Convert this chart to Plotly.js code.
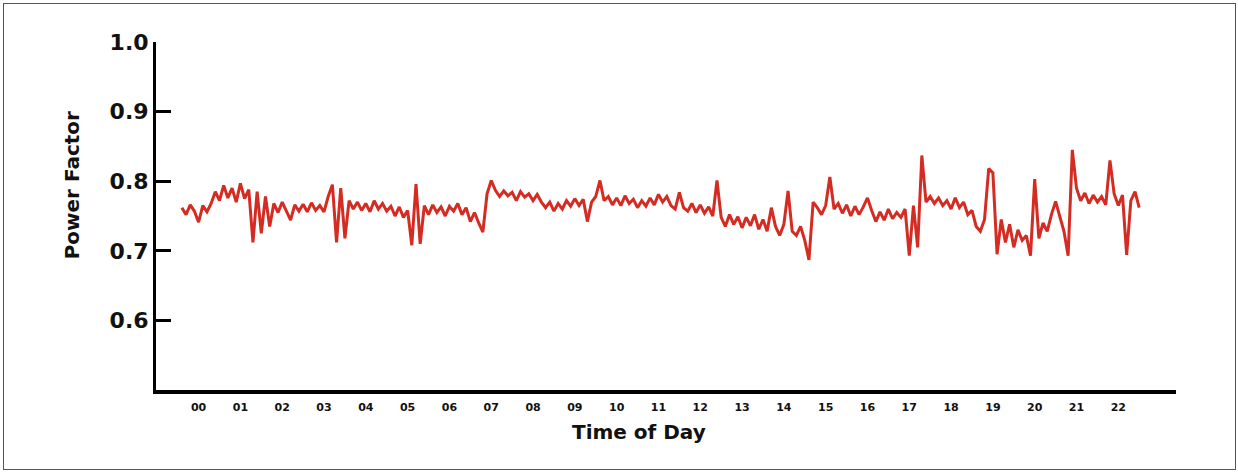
<!DOCTYPE html>
<html>
<head>
<meta charset="utf-8">
<script src="https://cdn.plot.ly/plotly-3.0.1.min.js"></script>
<style>
  html, body { margin: 0; padding: 0; background: #ffffff; }
  #wrap { position: relative; width: 1238px; height: 473px; }
  #chart { width: 1238px; height: 473px; }
  #frame { position: absolute; left: 3px; top: 3px; width: 1231px; height: 465px;
           border: 1px solid #555555; pointer-events: none; }
</style>
</head>
<body>
<div id="wrap">
  <div id="chart"></div>
  <div id="frame"></div>
</div>
<script>
// Sampling: readings every 0.1 hour starting at -0.4 h (line starts just before "00")
const START_HOUR = -0.4;
const STEP_HOURS = 0.1;

// Power factor readings
const powerFactor = [
  0.762, 0.752, 0.766, 0.757,                                          // -0.4 .. -0.1
  0.741, 0.765, 0.756, 0.768, 0.785, 0.772, 0.794, 0.776, 0.790, 0.770, // 00
  0.797, 0.775, 0.788, 0.712, 0.785, 0.725, 0.778, 0.735, 0.768, 0.755, // 01
  0.770, 0.758, 0.744, 0.766, 0.757, 0.767, 0.756, 0.769, 0.758, 0.765, // 02
  0.756, 0.778, 0.795, 0.712, 0.790, 0.718, 0.772, 0.760, 0.770, 0.758, // 03
  0.768, 0.756, 0.772, 0.760, 0.768, 0.757, 0.764, 0.750, 0.763, 0.748, // 04
  0.758, 0.708, 0.796, 0.710, 0.765, 0.752, 0.766, 0.755, 0.763, 0.750, // 05
  0.764, 0.757, 0.768, 0.752, 0.762, 0.742, 0.755, 0.740, 0.727, 0.782, // 06
  0.801, 0.787, 0.778, 0.786, 0.779, 0.784, 0.772, 0.785, 0.777, 0.782, // 07
  0.772, 0.781, 0.770, 0.762, 0.770, 0.757, 0.768, 0.760, 0.772, 0.764, // 08
  0.775, 0.765, 0.774, 0.742, 0.770, 0.778, 0.801, 0.772, 0.778, 0.766, // 09
  0.776, 0.765, 0.779, 0.768, 0.774, 0.762, 0.772, 0.764, 0.776, 0.766, // 10
  0.781, 0.770, 0.778, 0.765, 0.760, 0.784, 0.762, 0.757, 0.768, 0.755, // 11
  0.766, 0.754, 0.763, 0.750, 0.801, 0.748, 0.735, 0.752, 0.738, 0.749, // 12
  0.733, 0.748, 0.736, 0.752, 0.731, 0.745, 0.728, 0.762, 0.735, 0.722, // 13
  0.738, 0.786, 0.728, 0.722, 0.735, 0.715, 0.687, 0.770, 0.762, 0.752, // 14
  0.765, 0.806, 0.760, 0.768, 0.754, 0.766, 0.750, 0.764, 0.752, 0.763, // 15
  0.776, 0.758, 0.742, 0.756, 0.744, 0.760, 0.746, 0.755, 0.748, 0.760, // 16
  0.693, 0.765, 0.705, 0.837, 0.770, 0.778, 0.768, 0.776, 0.765, 0.772, // 17
  0.760, 0.776, 0.762, 0.770, 0.752, 0.758, 0.735, 0.728, 0.745, 0.818, // 18
  0.812, 0.695, 0.745, 0.712, 0.738, 0.705, 0.730, 0.715, 0.722, 0.693, // 19
  0.803, 0.718, 0.740, 0.728, 0.752, 0.771, 0.748, 0.728, 0.693, 0.845, // 20
  0.790, 0.772, 0.783, 0.768, 0.780, 0.770, 0.778, 0.766, 0.830, 0.782, // 21
  0.765, 0.780, 0.694, 0.772, 0.785, 0.762                              // 22
];

// Axis ticks
const hourTicks = [0,1,2,3,4,5,6,7,8,9,10,11,12,13,14,15,16,17,18,19,20,21,22];
const hourLabels = ['00','01','02','03','04','05','06','07','08','09','10','11',
                    '12','13','14','15','16','17','18','19','20','21','22'];
const pfTicks = [0.6, 0.7, 0.8, 0.9, 1.0];
const pfLabels = ['0.6', '0.7', '0.8', '0.9', '1.0'];

const FONT = 'DejaVu Sans, Liberation Sans, Arial, sans-serif';

const trace = {
  type: 'scatter',
  mode: 'lines',
  x0: START_HOUR,
  dx: STEP_HOURS,
  y: powerFactor,
  line: { color: '#d42b22', width: 3 },
  hoverinfo: 'skip'
};

const layout = {
  width: 1238,
  height: 473,
  margin: { l: 156, r: 62, t: 42, b: 83 },
  paper_bgcolor: '#ffffff',
  plot_bgcolor: '#ffffff',
  showlegend: false,
  xaxis: {
    range: [-1.019, 23.38],
    tickmode: 'array',
    tickvals: hourTicks,
    ticktext: hourLabels,
    ticks: '',
    ticklabelstandoff: 4,
    showline: true,
    linecolor: '#000000',
    linewidth: 4,
    showgrid: false,
    zeroline: false,
    tickfont: { family: FONT, size: 11, color: '#111111', weight: 'bold' },
    fixedrange: true
  },
  yaxis: {
    range: [0.5, 1.0],
    tickmode: 'array',
    tickvals: pfTicks,
    ticktext: pfLabels,
    ticks: 'inside',
    ticklen: 15,
    tickwidth: 3,
    tickcolor: '#000000',
    showline: true,
    linecolor: '#000000',
    linewidth: 3,
    showgrid: false,
    zeroline: false,
    tickfont: { family: FONT, size: 22, color: '#111111', weight: 'bold' },
    fixedrange: true
  },
  annotations: [
    {
      text: '<b>Power Factor</b>',
      xref: 'paper', yref: 'paper',
      x: -0.0824, y: 0.588,
      xanchor: 'center', yanchor: 'middle',
      textangle: -90,
      showarrow: false,
      font: { family: FONT, size: 20, color: '#111111' }
    },
    {
      text: '<b>Time of Day</b>',
      xref: 'paper', yref: 'paper',
      x: 0.4735, y: -0.1205,
      xanchor: 'center', yanchor: 'middle',
      showarrow: false,
      font: { family: FONT, size: 20, color: '#111111' }
    }
  ]
};

Plotly.newPlot('chart', [trace], layout, { displayModeBar: false, staticPlot: true });
</script>
</body>
</html>
